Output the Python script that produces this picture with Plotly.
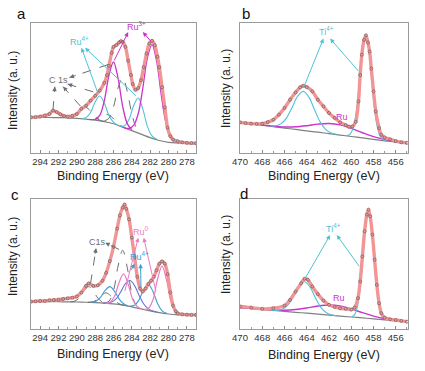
import plotly.graph_objects as go

# ---------------- panel a : Ru 3d / C 1s ----------------
a_energy = [295, 294.5, 294, 293.5, 293, 292.6, 292.2, 291.8, 291.4, 291, 290.5, 290, 289.5, 289,
            288.5, 288, 287.5, 287, 286.7, 286.5, 286.2, 286, 285.7, 285.4, 285.2, 285, 284.7,
            284.4, 284.1, 283.9, 283.6, 283.3, 283, 282.7, 282.4, 282.1, 281.8, 281.5, 281.2, 281,
            280.7, 280.4, 280.1, 279.8, 279.5, 279, 278.5, 278, 277.5, 277]
a_counts = [27.4, 27.6, 28, 28.8, 30, 32.6, 31.5, 29.8, 28.5, 28, 28.6, 30, 34, 36.4,
            40.3, 44, 48, 54, 60, 67, 77, 81.6, 83, 85, 86, 85.5, 81.6,
            71, 60, 53, 48.6, 50, 56, 66, 76.5, 84.2, 86.3, 83, 74, 66,
            50.6, 35, 19.4, 13, 10.3, 9, 8.2, 7.8, 7.6, 7.5]
a_bg_energy = [295, 294, 293, 292, 291, 290, 289, 288, 287, 286, 285, 284, 283, 282, 281, 280, 279, 278, 277]
a_bg = [27.4, 27.4, 27.3, 27.2, 27.0, 26.6, 26.0, 25.3, 24.2, 22.5, 19.8, 17.2, 14.5, 11.8, 9.6, 8.2, 7.7, 7.5, 7.5]
a_ru3_1_x = [284.8, 284.3, 283.8, 283.3, 282.8, 282.3, 281.8, 281.3, 280.8, 280.3, 279.8, 279.3, 278.8]
a_ru3_1_y = [19.4, 18.9, 21.2, 30.4, 50.0, 73.2, 83.4, 70.9, 45.3, 23.7, 12.6, 8.7, 7.7]
a_ru3_2_x = [288, 287.5, 287, 286.5, 286, 285.5, 285, 284.5, 284]
a_ru3_2_y = [25.9, 28.9, 40.3, 59.6, 70.0, 57.4, 35.9, 22.6, 17.8]
a_ru4_1_x = [285.3, 284.8, 284.3, 283.8, 283.3, 282.8, 282.3, 281.8, 281.3]
a_ru4_1_y = [20.8, 21.0, 25.9, 36.5, 42.3, 33.8, 20.5, 13.1, 10.5]
a_ru4_2_x = [289.5, 289, 288.5, 288, 287.5, 287, 286.5, 286, 285.5]
a_ru4_2_y = [26.4, 27.2, 31.2, 39.3, 43.8, 38.2, 28.9, 23.7, 21.3]
a_c1_x = [287, 286.5, 286, 285.5, 285, 284.5, 284, 283.5, 283]
a_c1_y = [24.7, 26.7, 35.4, 50.2, 57.8, 47.5, 30.1, 19.2, 15.0]
a_c2_x = [288.6, 288.1, 287.6, 287.1, 286.6, 286.1, 285.6, 285.1, 284.6]
a_c2_y = [25.7, 25.8, 26.6, 28.7, 29.5, 27.1, 23.1, 20.5, 18.8]
a_c3_x = [291, 290.5, 290, 289.5, 289, 288.5, 288, 287.5, 287]
a_c3_y = [27.1, 27.4, 29.2, 32.9, 35.0, 32.3, 27.9, 25.3, 24.3]
a_c4_x = [294.6, 294.1, 293.6, 293.1, 292.6, 292.1, 291.6, 291.1, 290.6]
a_c4_y = [27.3, 27.4, 28.8, 31.0, 32.3, 31.0, 28.7, 27.4, 27.0]

# ---------------- panel b : Ti 2p ----------------
b_energy = [470, 469.5, 469, 468.5, 468, 467.5, 467, 466.5, 466, 465.5, 465, 464.6, 464.3, 464,
            463.5, 463, 462.5, 462, 461.5, 461, 460.5, 460.2, 459.9, 459.6, 459.35, 459.2, 459.05,
            458.85, 458.68, 458.5, 458.35, 458.2, 458.0, 457.8, 457.5, 457.3, 457, 456.5, 456, 455.5, 455]
b_counts = [23.6, 23.0, 22.6, 22.4, 22.6, 23.8, 25.6, 29.5, 34.6, 41, 46.6, 50.5, 51.7, 50.7,
            47.4, 41, 35.9, 30.8, 27, 23.6, 21.5, 20.2, 20.5, 24, 39.7, 60, 75.6,
            87, 90.5, 85, 78, 65, 47.4, 32, 19.2, 14, 12, 10.5, 9.2, 8.3, 7.8]
b_bg_energy = [470, 469, 468, 467, 466, 465, 464, 463, 462, 461, 460, 459, 458, 457, 456, 455]
b_bg = [23.6, 22.5, 21.4, 20.3, 19.2, 18.1, 17.0, 16.0, 14.9, 13.8, 12.7, 11.6, 10.5, 9.4, 8.3, 7.2]
b_ti_1_x = [467.3, 466.8, 466.3, 465.8, 465.3, 464.8, 464.3, 463.8, 463.3, 462.8, 462.3, 461.8, 461.3]
b_ti_1_y = [20.8, 20.9, 22.6, 27.25, 35.4, 43.9, 47.4, 42.8, 33.2, 23.95, 18.2, 15.4, 14.3]
b_ti_2_x = [460.45, 460.2, 459.95, 459.7, 459.45, 459.2, 458.95, 458.7, 458.45, 458.2, 457.95, 457.7, 457.45, 457.2, 456.95]
b_ti_2_y = [13.4, 13.9, 16.55, 23.9, 38.8, 60.6, 81.65, 90.3, 81.1, 59.5, 37.2, 21.7, 13.8, 10.6, 9.5]
b_ru_x = [470, 469, 468, 467, 466, 465, 464, 463, 462, 461, 460, 459, 458, 457, 456, 455]
b_ru_y = [23.6, 22.5, 21.5, 20.6, 20.05, 20.15, 21.0, 22.2, 22.7, 21.6, 18.9, 15.6, 12.55, 10.25, 8.6, 7.3]

# ---------------- panel c : Ru 3d / C 1s ----------------
c_energy = [295, 294.5, 294, 293.5, 293, 292.5, 292, 291.5, 291, 290.5, 290, 289.5, 289, 288.7,
            288.2, 287.7, 287.2, 286.8, 286.4, 286, 285.6, 285.3, 285, 284.8, 284.6, 284.3, 284,
            283.7, 283.4, 283.1, 282.8, 282.5, 282.2, 281.9, 281.6, 281.3, 281, 280.7, 280.4, 280.1,
            279.8, 279.5, 279.2, 279, 278.5, 278, 277.5, 277]
c_counts = [21, 21.2, 21.5, 21.5, 22, 22.2, 22.5, 23, 23.5, 24, 25, 28, 33, 35,
            33, 33.5, 37, 43, 52, 63, 77, 87, 93, 95.4, 92, 84, 70,
            55, 40, 31, 28.7, 31, 34.5, 37, 40, 45, 50, 51.8, 50, 42,
            28, 18, 13.5, 12, 11.2, 11, 10.8, 10.8]
c_bg_energy = [295, 294, 293, 292, 291, 290, 289, 288, 287, 286, 285, 284, 283, 282, 281, 280, 279, 278, 277]
c_bg = [21.0, 21.0, 21.0, 20.9, 20.8, 20.7, 20.5, 20.2, 19.8, 19.2, 18.3, 16.9, 15.4, 13.9, 12.5, 11.5, 10.9, 10.7, 10.6]
c_ru0_1_x = [282.7, 282.2, 281.7, 281.2, 280.7, 280.2, 279.7, 279.2, 278.7]
c_ru0_1_y = [15.1, 15.7, 22.2, 38.1, 48.2, 37.0, 20.0, 12.5, 10.9]
c_ru0_2_x = [286.9, 286.4, 285.9, 285.4, 284.9, 284.4, 283.9, 283.4, 282.9]
c_ru0_2_y = [19.8, 20.4, 24.9, 35.5, 42.2, 34.3, 22.55, 17.0, 15.35]
c_ru4_1_x = [284.2, 283.7, 283.2, 282.7, 282.2, 281.7, 281.2, 280.7, 280.2]
c_ru4_1_y = [17.5, 18.2, 22.5, 30.3, 34.2, 28.8, 19.6, 13.9, 12.0]
c_ru4_2_x = [288.4, 287.9, 287.4, 286.9, 286.4, 285.9, 285.4, 284.9, 284.4]
c_ru4_2_y = [20.5, 21.3, 24.4, 29.7, 32.5, 29.0, 23.1, 19.3, 17.7]
c_sat_x = [287.2, 286.7, 286.2, 285.7, 285.2, 284.7, 284.2, 283.7, 283.2, 282.7, 282.2, 281.7, 281.2]
c_sat_y = [19.9, 19.9, 20.6, 23.2, 28.6, 34.7, 37.2, 33.25, 25.7, 19.15, 15.45, 13.8, 12.8]
c_c1_x = [287, 286.5, 286, 285.5, 285, 284.5, 284, 283.5, 283]
c_c1_y = [19.95, 21.3, 29.4, 48.25, 60.3, 47.1, 27.1, 17.95, 15.55]
c_c2_x = [288.8, 288.3, 287.8, 287.3, 286.8, 286.3, 285.8, 285.3, 284.8]
c_c2_y = [20.5, 20.8, 22.4, 25.8, 27.7, 25.3, 21.3, 19.1, 18.2]
c_c3_x = [290.7, 290.2, 289.7, 289.2, 288.7, 288.2, 287.7, 287.2, 286.7]
c_c3_y = [20.8, 21.4, 24.15, 29.4, 32.45, 29.1, 23.6, 20.6, 19.7]

# ---------------- panel d : Ti 2p ----------------
d_energy = [470, 469, 468, 467, 466, 465.5, 465, 464.5, 464.2, 463.9, 463.5, 463, 462.5, 462,
            461.5, 461, 460.5, 460, 459.7, 459.4, 459.2, 459.0, 458.8, 458.6, 458.45, 458.3,
            458.1, 457.9, 457.7, 457.5, 457.3, 457, 456.5, 456, 455.5, 455]
d_counts = [17.2, 16.4, 15.4, 15.9, 17.9, 22.3, 28.7, 35.1, 38.5, 37.7, 32.6, 26.7, 21.8, 18.5,
            16.9, 15.9, 15.4, 14.9, 16.4, 23.6, 36.4, 55.6, 74.9, 87.7, 91.5, 86.4,
            72.3, 53.1, 33.8, 19.7, 12.1, 8.7, 7.4, 6.9, 6.2, 5.6]
d_bg_energy = [470, 469, 468, 467, 466, 465, 464, 463, 462, 461, 460, 459, 458, 457, 456, 455]
d_bg = [16.4, 15.7, 15.0, 14.2, 13.5, 12.8, 12.1, 11.4, 10.6, 9.9, 9.2, 8.5, 7.8, 7.0, 6.3, 5.6]
d_ti_1_x = [467.2, 466.7, 466.2, 465.7, 465.2, 464.7, 464.2, 463.7, 463.2, 462.7, 462.2, 461.7, 461.2]
d_ti_1_y = [14.45, 14.3, 15.2, 18.3, 25.0, 32.8, 36.2, 32.1, 23.5, 16.2, 12.3, 10.7, 10.05]
d_ti_2_x = [459.95, 459.7, 459.45, 459.2, 458.95, 458.7, 458.45, 458.2, 457.95, 457.7, 457.45, 457.2, 456.95]
d_ti_2_y = [9.4, 11.0, 17.0, 31.2, 54.9, 79.9, 90.85, 79.55, 54.15, 30.1, 15.5, 9.2, 7.25]
d_ru_x = [470, 469, 468, 467, 466, 465, 464, 463, 462, 461, 460, 459, 458, 457, 456, 455]
d_ru_y = [16.4, 15.7, 15.1, 14.5, 14.35, 14.9, 16.1, 17.6, 18.4, 17.7, 15.4, 12.5, 9.9, 7.85, 6.6, 5.7]

ru3d_ticks = [294, 292, 290, 288, 286, 284, 282, 280, 278]
ti2p_ticks = [470, 468, 466, 464, 462, 460, 458, 456]

# ---------------- styling ----------------
FONT = "Arial, Liberation Sans, sans-serif"
PINK = "#f29595"
DOT = "#6a5a5a"
BGC = "#808080"
CYAN = "#4fc2d8"
MAG = "#cc33cc"
CGRAY = "#6e6e6e"
RU0 = "#e97dc3"
RU4B = "#3a9fd6"
SATC = "#6a72d4"

W, H = 425, 371
fig = go.Figure()


def curve(xa, ya, x, y, color, width=1.0, dash="solid"):
    fig.add_trace(go.Scatter(x=x, y=y, xaxis=xa, yaxis=ya, mode="lines",
                             line=dict(color=color, width=width, dash=dash, shape="spline", smoothing=1.0),
                             hoverinfo="skip", showlegend=False))


def data(xa, ya, x, y):
    fig.add_trace(go.Scatter(x=x, y=y, xaxis=xa, yaxis=ya, mode="lines",
                             line=dict(color=PINK, width=3.4, shape="spline", smoothing=0.8),
                             hoverinfo="skip", showlegend=False))
    fig.add_trace(go.Scatter(x=x, y=y, xaxis=xa, yaxis=ya, mode="markers",
                             marker=dict(symbol="circle-open", size=3, color=DOT, line=dict(width=0.8)),
                             opacity=0.85, hoverinfo="skip", showlegend=False))


def arrow(xr, yr, head, tail, color, dashed=False):
    if dashed:
        fig.add_shape(type="line", xref=xr, yref=yr, x0=tail[0], y0=tail[1], x1=head[0], y1=head[1],
                      line=dict(color=color, width=1, dash="dash"))
        ax = head[0] + (tail[0] - head[0]) * 0.2
        ay = head[1] + (tail[1] - head[1]) * 0.2
    else:
        ax, ay = tail
    fig.add_annotation(xref=xr, yref=yr, axref=xr, ayref=yr, x=head[0], y=head[1], ax=ax, ay=ay,
                       text="", showarrow=True, arrowhead=2, arrowsize=0.9, arrowwidth=1, arrowcolor=color)


def label(xr, yr, x, y, text, color, size=9):
    fig.add_annotation(xref=xr, yref=yr, x=x, y=y, text=text, showarrow=False,
                       xanchor="center", yanchor="middle",
                       font=dict(family=FONT, size=size, color=color))


# panel a
curve("x", "y", a_bg_energy, a_bg, BGC, 1.2)
for xs, ys in [(a_c1_x, a_c1_y), (a_c2_x, a_c2_y), (a_c3_x, a_c3_y), (a_c4_x, a_c4_y)]:
    curve("x", "y", xs, ys, CGRAY, 1.0, "dash")
curve("x", "y", a_ru4_1_x, a_ru4_1_y, CYAN, 1.1)
curve("x", "y", a_ru4_2_x, a_ru4_2_y, CYAN, 1.1)
curve("x", "y", a_ru3_1_x, a_ru3_1_y, MAG, 1.3)
curve("x", "y", a_ru3_2_x, a_ru3_2_y, MAG, 1.3)
data("x", "y", a_energy, a_counts)

# panel b
curve("x2", "y2", b_bg_energy, b_bg, BGC, 1.2)
curve("x2", "y2", b_ru_x, b_ru_y, MAG, 1.4)
curve("x2", "y2", b_ti_1_x, b_ti_1_y, CYAN, 1.1)
curve("x2", "y2", b_ti_2_x, b_ti_2_y, CYAN, 1.1)
data("x2", "y2", b_energy, b_counts)

# panel c
curve("x3", "y3", c_bg_energy, c_bg, BGC, 1.2)
for xs, ys in [(c_c1_x, c_c1_y), (c_c2_x, c_c2_y), (c_c3_x, c_c3_y)]:
    curve("x3", "y3", xs, ys, CGRAY, 1.0, "dash")
curve("x3", "y3", c_sat_x, c_sat_y, SATC, 1.1)
curve("x3", "y3", c_ru4_1_x, c_ru4_1_y, RU4B, 1.1)
curve("x3", "y3", c_ru4_2_x, c_ru4_2_y, RU4B, 1.1)
curve("x3", "y3", c_ru0_1_x, c_ru0_1_y, RU0, 1.2)
curve("x3", "y3", c_ru0_2_x, c_ru0_2_y, RU0, 1.2)
data("x3", "y3", c_energy, c_counts)

# panel d
curve("x4", "y4", d_bg_energy, d_bg, BGC, 1.2)
curve("x4", "y4", d_ru_x, d_ru_y, MAG, 1.4)
curve("x4", "y4", d_ti_1_x, d_ti_1_y, CYAN, 1.1)
curve("x4", "y4", d_ti_2_x, d_ti_2_y, CYAN, 1.1)
data("x4", "y4", d_energy, d_counts)

# annotations / arrows
label("x", "y", 289.7, 86, "Ru<sup>4+</sup>", CYAN)
arrow("x", "y", (289.5, 81), (287.6, 44), CYAN)
arrow("x", "y", (289.1, 81), (283.4, 43), CYAN)
label("x", "y", 283.5, 98, "Ru<sup>3+</sup>", MAG)
arrow("x", "y", (284.4, 93), (286.0, 70), MAG)
arrow("x", "y", (282.8, 93), (281.8, 85), MAG)
label("x", "y", 292.0, 56, "C 1s", CGRAY)
arrow("x", "y", (292.4, 51), (292.6, 33), CGRAY, True)
arrow("x", "y", (291.5, 51), (289.6, 36), CGRAY, True)
arrow("x", "y", (291.0, 53), (288.2, 47), CGRAY, True)
arrow("x", "y", (290.8, 58), (286.6, 68), CGRAY, True)

label("x2", "y2", 462.2, 93.5, "Ti<sup>4+</sup>", CYAN)
arrow("x2", "y2", (462.5, 88), (464.3, 50), CYAN)
arrow("x2", "y2", (461.9, 88), (459.25, 62), CYAN)
label("x2", "y2", 460.8, 28, "Ru", MAG)

label("x3", "y3", 287.7, 67, "C1s", CGRAY)
arrow("x3", "y3", (287.9, 62), (288.5, 35), CGRAY, True)
arrow("x3", "y3", (286.9, 66), (285.4, 61), CGRAY, True)
label("x3", "y3", 283.0, 75, "Ru<sup>0</sup>", RU0)
arrow("x3", "y3", (283.3, 70), (284.8, 28), RU0)
arrow("x3", "y3", (282.7, 70), (281.35, 28), RU0)
label("x3", "y3", 283.2, 55.6, "Ru<sup>4+</sup>", RU4B)
arrow("x3", "y3", (283.05, 50), (283.0, 31), RU4B)
arrow("x3", "y3", (283.7, 50), (284.2, 44), RU4B)

label("x4", "y4", 461.6, 77.4, "Ti<sup>4+</sup>", CYAN)
arrow("x4", "y4", (461.9, 72), (464.2, 38), CYAN)
arrow("x4", "y4", (461.3, 72), (459.2, 47), CYAN)
label("x4", "y4", 461.1, 23.6, "Ru", MAG)

# axes
left_dom = [31 / W, 196 / W]
right_dom = [240 / W, 408 / W]
top_dom = [1 - 153 / H, 1 - 23 / H]
bot_dom = [1 - 329 / H, 1 - 198.5 / H]


def xax(dom, anchor, rng, ticks):
    return dict(domain=dom, anchor=anchor, range=rng, tickmode="array", tickvals=ticks,
                ticktext=[str(t) for t in ticks], showline=True, mirror=True, linecolor="#9a9a9a",
                linewidth=1, showgrid=False, zeroline=False, ticks="inside", ticklen=3,
                tickcolor="#8a8a8a", tickfont=dict(family=FONT, size=9.5, color="#333"),
                minor=dict(dtick=1, tick0=0, ticks="inside", ticklen=2, tickcolor="#9a9a9a"))


def yax(dom, anchor):
    return dict(domain=dom, anchor=anchor, range=[0, 100], showline=True, mirror=True,
                linecolor="#9a9a9a", linewidth=1, showgrid=False, zeroline=False,
                showticklabels=False, ticks="")


fig.update_layout(
    width=W, height=H, margin=dict(l=0, r=0, t=0, b=0, autoexpand=False),
    paper_bgcolor="white", plot_bgcolor="white", showlegend=False,
    font=dict(family=FONT),
    xaxis=xax(left_dom, "y", [295, 277], ru3d_ticks), yaxis=yax(top_dom, "x"),
    xaxis2=xax(right_dom, "y2", [470, 454.9], ti2p_ticks), yaxis2=yax(top_dom, "x2"),
    xaxis3=xax(left_dom, "y3", [295, 277], ru3d_ticks), yaxis3=yax(bot_dom, "x3"),
    xaxis4=xax(right_dom, "y4", [470, 454.9], ti2p_ticks), yaxis4=yax(bot_dom, "x4"),
)

# axis titles and panel letters
for xc, yc in [((31 + 196) / 2 / W, 1 - 176 / H), ((240 + 408) / 2 / W, 1 - 176 / H),
               ((31 + 196) / 2 / W, 1 - 354 / H), ((240 + 408) / 2 / W, 1 - 355 / H)]:
    fig.add_annotation(xref="paper", yref="paper", x=xc, y=yc, text="Binding Energy (eV)",
                       xanchor="center", yanchor="middle",
                       showarrow=False, font=dict(family=FONT, size=12.5, color="#222"))
for xc, yc in [(13 / W, 1 - 91 / H), (226 / W, 1 - 89 / H), (13 / W, 1 - 257 / H), (226 / W, 1 - 255 / H)]:
    fig.add_annotation(xref="paper", yref="paper", x=xc, y=yc, text="Intensity (a. u.)", textangle=-90,
                       xanchor="center", yanchor="middle",
                       showarrow=False, font=dict(family=FONT, size=12, color="#222"))
for t, xc, yc in [("a", 21, 14), ("b", 245.5, 13), ("c", 15, 194), ("d", 243.5, 193)]:
    fig.add_annotation(xref="paper", yref="paper", x=xc / W, y=1 - yc / H, text=t, showarrow=False,
                       xanchor="center", yanchor="middle",
                       font=dict(family=FONT, size=15, color="#111"))

fig.write_html("out.html", config={"displayModeBar": False},
               post_script="document.body.style.margin='0px';")
